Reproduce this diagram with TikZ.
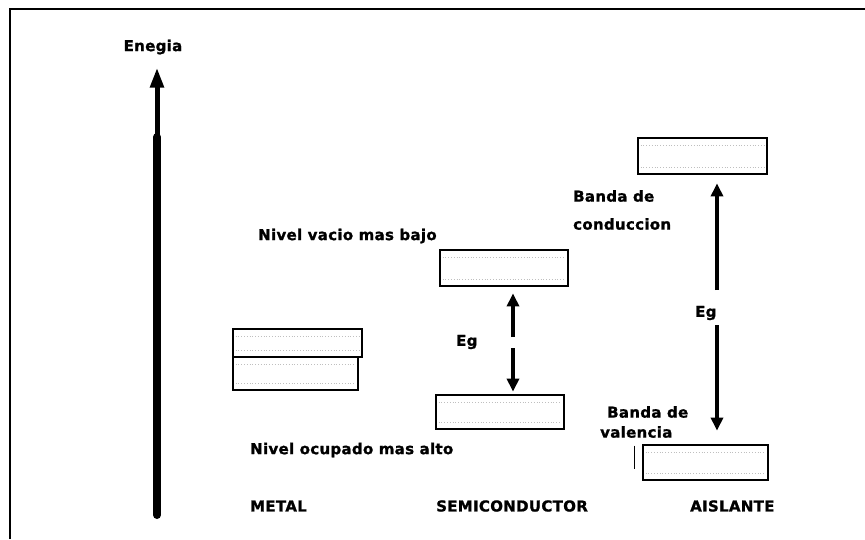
\documentclass[tikz,border=0pt]{standalone}
\usepackage{fontspec}
\setmainfont{DejaVu Sans}[LetterSpace=2, BoldFeatures={FakeBold=1.2}]
\usepackage{tikz}
\usetikzlibrary{
arrows.meta,
positioning
}
\tikzset{
bandbox/.style={draw=black, line width=2.8pt, fill=white, minimum width=128pt,
  minimum height=34pt, inner sep=0pt},
banddots/.style={draw=black!25, dotted, line width=0.8pt},
bandlabel/.style={anchor=west, inner sep=0pt, font=\bfseries\fontsize{15}{17}\selectfont},
gaparrow/.style={-{Triangle[length=13pt,width=12pt]}, line width=4.5pt},
}

\begin{document}
\begin{tikzpicture}[x=1pt,y=-1pt]
\useasboundingbox (0,0) rectangle (865,539);
\draw[line width=2.5pt] (10,539) -- (10,9) -- (865,9);

\node[bandlabel, anchor=center] (enegia) at (153,47) {Enegia};
\coordinate (ebase) at (157,515);
\coordinate (ejoin) at (157,137);
\draw[line width=8pt, line cap=round] (ebase) -- (ejoin);
\draw[-{Triangle[length=20pt,width=13pt]}, line width=5pt, shorten >=13pt] (ejoin) -- (ejoin |- enegia.south);

% bandas
\node[bandbox, minimum width=129pt, minimum height=28pt] (metaltop) at (297.5,343) {};
\node[bandbox, minimum width=125pt, minimum height=33pt] (metalbot) at (295.5,373.5) {};
\node[bandbox, minimum height=36pt] (semiup) at (504,268) {};
\node[bandbox] (semilow) at (500,412) {};
\node[bandbox, minimum width=129pt, minimum height=36pt] (aisup) at (702.5,156) {};
\node[bandbox, minimum width=125pt, minimum height=35pt] (aislow) at (705.5,462.5) {};
\foreach \b in {metaltop,metalbot,semiup,semilow,aisup,aislow}{
  \draw[banddots] ([xshift=4pt,yshift=-9pt]\b.north west) -- ([xshift=-4pt,yshift=-9pt]\b.north east);
  \draw[banddots] ([xshift=4pt,yshift=8pt]\b.south west) -- ([xshift=-4pt,yshift=8pt]\b.south east);
}
\draw[line width=0.8pt] ([xshift=-7pt,yshift=-2pt]aislow.north west) -- ++(0,23);

% textos
\node[bandlabel] (vacio) at (258,236) {Nivel vacio mas bajo};
\node[bandlabel] (ocupado) at (250,450) {Nivel ocupado mas alto};
\node[bandlabel] (bandac1) at (573,196) {Banda de};
\node[bandlabel] (bandac2) at (573,224) {conduccion};
\node[bandlabel] (bandav1) at (607,412) {Banda de};
\node[bandlabel] (bandav2) at (600,432) {valencia};
\node[bandlabel] (egsemi) at (456,342) {Eg};
\node[bandlabel] (egais) at (695,313) {Eg};
\node[bandlabel] (metal) at (250,506) {METAL};
\node[bandlabel] (semi) at (436,506) {SEMICONDUCTOR};
\node[bandlabel] (aislante) at (690,506) {AISLANTE};

% Eg
\coordinate (sgapup) at (513,337);
\coordinate (sgapdown) at (513,348);
\coordinate (agapup) at (717,290);
\coordinate (agapdown) at (717,325);
\draw[gaparrow, shorten >=6pt] (sgapup) -- (sgapup |- semiup.south);
\draw[gaparrow, shorten >=2pt] (sgapdown) -- (sgapdown |- semilow.north);
\draw[gaparrow, shorten >=8pt] (agapup) -- (agapup |- aisup.south);
\draw[gaparrow, shorten >=13pt] (agapdown) -- (agapdown |- aislow.north);
\end{tikzpicture}
\end{document}
